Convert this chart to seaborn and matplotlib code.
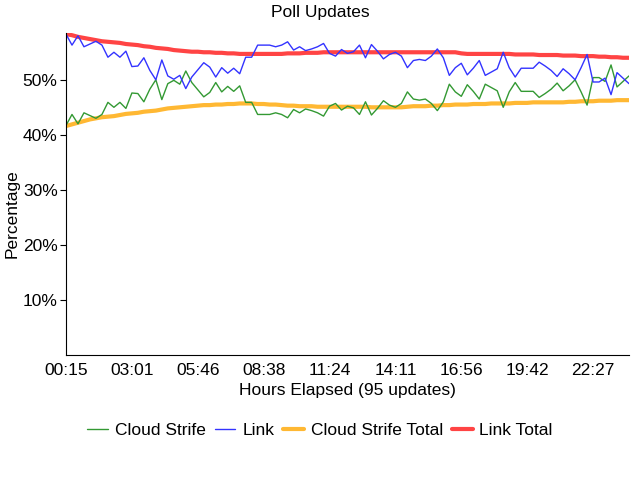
import pandas as pd
import seaborn as sns
import matplotlib.pyplot as plt
from matplotlib.lines import Line2D

# Valores (95 atualizacoes)
link = [58.3, 56.3, 58.0, 56.0, 56.5, 57.0, 56.3, 54.1, 55.0, 54.1,
        55.2, 52.4, 52.5, 54.0, 51.7, 50.0, 53.6, 50.7, 50.1, 50.8,
        48.4, 50.5, 51.8, 53.1, 52.3, 50.5, 52.2, 51.2, 52.1, 51.1,
        54.1, 54.1, 56.3, 56.3, 56.3, 56.0, 56.3, 56.9, 55.4, 56.0,
        55.3, 55.6, 56.0, 56.6, 54.8, 54.3, 55.5, 54.8, 55.1, 56.3,
        54.0, 56.4, 55.2, 53.8, 54.6, 55.0, 54.3, 52.2, 53.5, 53.7,
        53.5, 54.3, 55.6, 54.0, 50.8, 52.2, 53.0, 50.9, 52.1, 53.5,
        50.8, 51.4, 52.0, 55.0, 52.2, 50.5, 52.1, 52.1, 52.1, 53.2,
        52.5, 51.7, 50.6, 52.0, 51.1, 50.0, 52.2, 54.6, 49.6, 49.6,
        50.3, 47.3, 51.3, 50.3, 49.3]

cloud = [41.7, 43.7, 42.0, 44.0, 43.5, 43.0, 43.7, 45.9, 45.0, 45.9,
         44.8, 47.6, 47.5, 46.0, 48.3, 50.0, 46.4, 49.3, 49.9, 49.2,
         51.6, 49.5, 48.2, 46.9, 47.7, 49.5, 47.8, 48.8, 47.9, 48.9,
         45.9, 45.9, 43.7, 43.7, 43.7, 44.0, 43.7, 43.1, 44.6, 44.0,
         44.7, 44.4, 44.0, 43.4, 45.2, 45.7, 44.5, 45.2, 44.9, 43.7,
         46.0, 43.6, 44.8, 46.2, 45.4, 45.0, 45.7, 47.8, 46.5, 46.3,
         46.5, 45.7, 44.4, 46.0, 49.2, 47.8, 47.0, 49.1, 47.9, 46.5,
         49.2, 48.6, 48.0, 45.0, 47.8, 49.5, 47.9, 47.9, 47.9, 46.8,
         47.5, 48.3, 49.4, 48.0, 48.9, 50.0, 47.8, 45.4, 50.4, 50.4,
         49.7, 52.7, 48.7, 49.7, 50.7]

link_total = [58.3, 58.1, 57.8, 57.6, 57.4, 57.2, 57.0, 56.9, 56.8, 56.7,
              56.5, 56.4, 56.3, 56.1, 56.0, 55.8, 55.7, 55.6, 55.4, 55.3,
              55.2, 55.1, 55.1, 55.0, 55.0, 54.9, 54.9, 54.8, 54.8, 54.7,
              54.7, 54.7, 54.7, 54.7, 54.7, 54.7, 54.7, 54.8, 54.8, 54.8,
              54.9, 54.9, 54.9, 55.0, 55.0, 55.0, 55.0, 55.0, 55.0, 55.0,
              55.0, 55.0, 55.0, 55.0, 55.0, 55.0, 55.0, 55.0, 55.0, 55.0,
              55.0, 55.0, 55.0, 55.0, 55.0, 55.0, 54.8, 54.7, 54.7, 54.7,
              54.7, 54.7, 54.7, 54.7, 54.7, 54.6, 54.6, 54.6, 54.6, 54.5,
              54.5, 54.5, 54.5, 54.4, 54.4, 54.4, 54.3, 54.3, 54.3, 54.2,
              54.2, 54.1, 54.1, 54.0, 54.0]

cloud_total = [41.6, 41.9, 42.2, 42.5, 42.8, 43.0, 43.2, 43.3, 43.4, 43.6,
               43.8, 43.9, 44.0, 44.2, 44.3, 44.4, 44.6, 44.8, 44.9, 45.0,
               45.1, 45.2, 45.3, 45.4, 45.4, 45.5, 45.5, 45.6, 45.6, 45.7,
               45.7, 45.7, 45.6, 45.6, 45.5, 45.5, 45.4, 45.3, 45.3, 45.2,
               45.2, 45.2, 45.1, 45.1, 45.1, 45.1, 45.1, 45.1, 45.1, 45.1,
               45.1, 45.0, 45.0, 45.0, 45.0, 45.0, 45.0, 45.1, 45.2, 45.2,
               45.2, 45.3, 45.3, 45.4, 45.4, 45.5, 45.5, 45.5, 45.6, 45.6,
               45.6, 45.7, 45.7, 45.7, 45.7, 45.8, 45.8, 45.8, 45.9, 45.9,
               45.9, 45.9, 45.9, 45.9, 46.0, 46.0, 46.1, 46.1, 46.1, 46.2,
               46.2, 46.2, 46.3, 46.3, 46.3]

tick_labels = ['00:15', '03:01', '05:46', '08:38', '11:24', '14:11', '16:56', '19:42', '22:27']

sns.set_style('white')
plt.rcParams['font.family'] = ['Liberation Sans', 'DejaVu Sans']
plt.rcParams['text.color'] = 'black'
plt.rcParams['axes.labelcolor'] = 'black'
plt.rcParams['xtick.color'] = 'black'
plt.rcParams['ytick.color'] = 'black'

updates = list(range(len(link)))
df = pd.DataFrame({
    'update': updates * 4,
    'value': cloud_total + link_total + cloud + link,
    'series': (['Cloud Strife Total'] * len(updates) + ['Link Total'] * len(updates)
               + ['Cloud Strife'] * len(updates) + ['Link'] * len(updates)),
})

cores = {'Cloud Strife': '#339933', 'Link': '#3333ff',
         'Cloud Strife Total': '#ffb833', 'Link Total': '#ff4444'}
larguras = {'Cloud Strife': 1.0, 'Link': 1.0, 'Cloud Strife Total': 3.0, 'Link Total': 3.0}

fig = plt.figure(figsize=(6.4, 4.8), dpi=100)
ax = fig.add_axes([66 / 640, 1 - 355 / 480, (629 - 66) / 640, (355 - 33) / 480])

# totais primeiro, para as linhas finas ficarem por cima
for nome in ['Cloud Strife Total', 'Link Total', 'Cloud Strife', 'Link']:
    sns.lineplot(data=df[df['series'] == nome], x='update', y='value',
                 color=cores[nome], linewidth=larguras[nome], ax=ax, legend=False)

ax.set_xlim(0, 94)
ax.set_ylim(0, 58.5)
ax.set_xticks(range(0, 95, 11))
ax.set_xticklabels(tick_labels)
ax.set_yticks([10, 20, 30, 40, 50])
ax.set_yticklabels(['10%', '20%', '30%', '40%', '50%'])
ax.tick_params(axis='x', direction='in', length=4, labelsize=12.5, pad=6)
ax.tick_params(axis='y', direction='out', length=4, labelsize=12.5, pad=2, left=True)
ax.spines['top'].set_visible(False)
ax.spines['right'].set_visible(False)
ax.spines['left'].set_color('black')
ax.spines['bottom'].set_color('black')
ax.set_xlabel('Hours Elapsed (95 updates)', fontsize=12.5, labelpad=3)
ax.set_ylabel('')

fig.text(0.5, 1 - 12 / 480, 'Poll Updates', ha='center', va='center', fontsize=12.5)
fig.text(12 / 640, 1 - 214 / 480, 'Percentage', ha='center', va='center', rotation=90, fontsize=12.5)

handles = [Line2D([], [], color=cores[n], linewidth=larguras[n]) for n in cores]
fig.legend(handles, list(cores.keys()), loc='center', bbox_to_anchor=(0.5, 1 - 430 / 480),
           ncol=4, frameon=False, fontsize=12.5, handlelength=1.2, handletextpad=0.4,
           columnspacing=0.5)

plt.savefig('out.png', dpi=100)
